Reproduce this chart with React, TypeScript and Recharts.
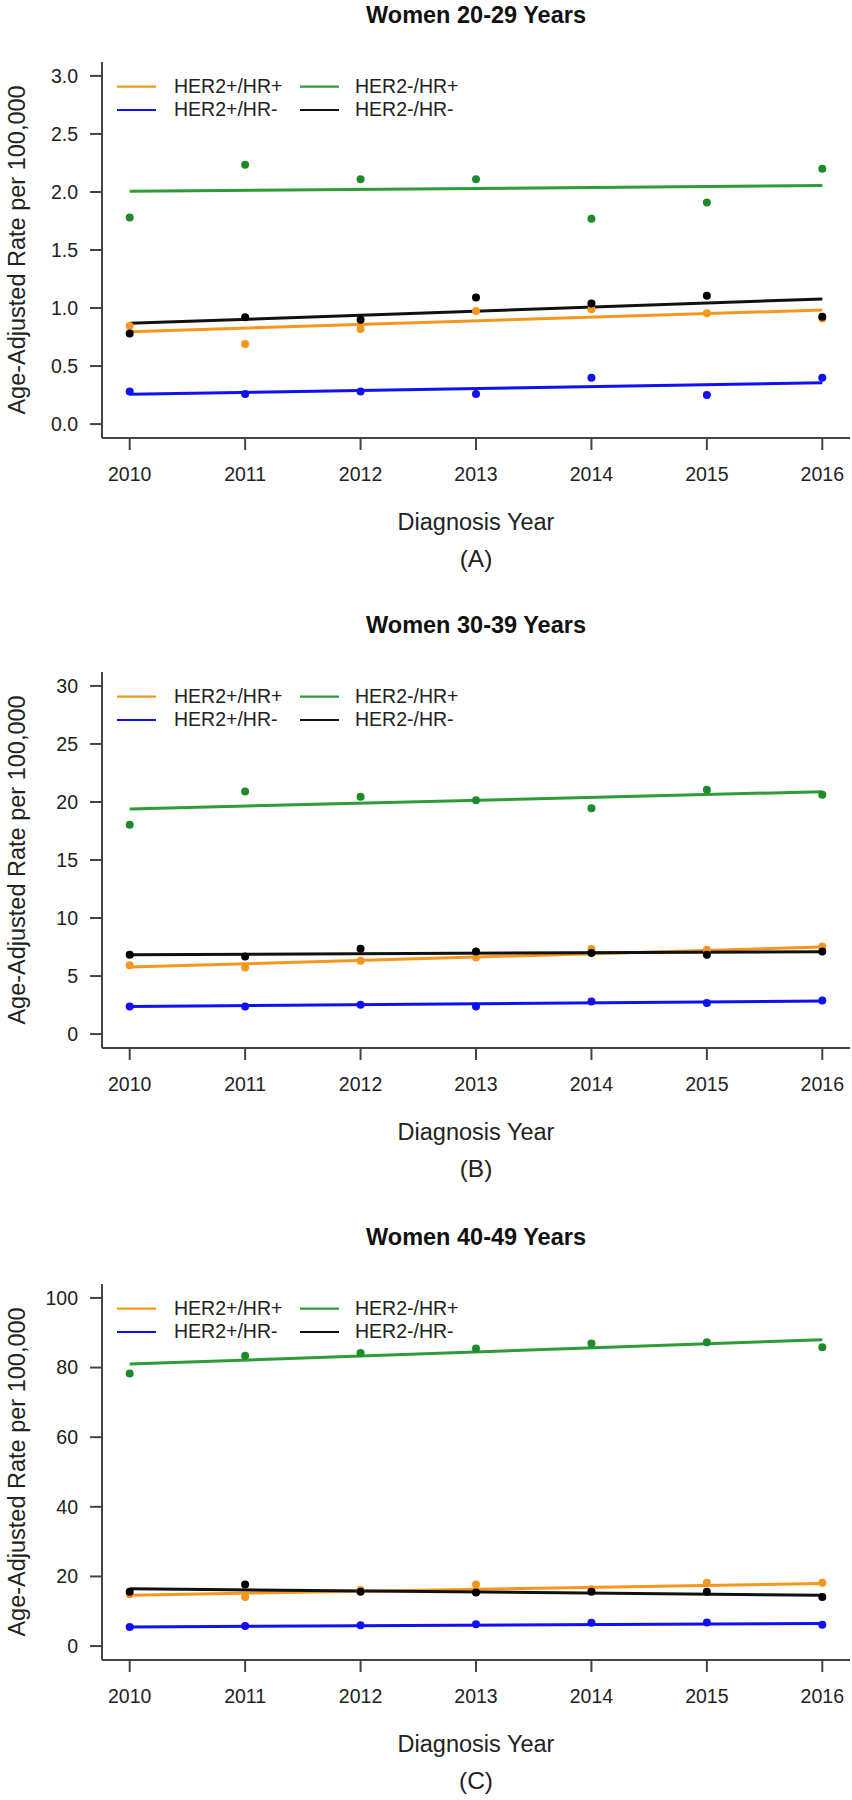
import React from 'react';
import { ScatterChart, Scatter, XAxis, YAxis, ReferenceLine } from 'recharts';

// ---------- data ----------
const years = [2010, 2011, 2012, 2013, 2014, 2015, 2016];
const seriesNames = ['HER2+/HR+', 'HER2+/HR-', 'HER2-/HR+', 'HER2-/HR-'];

// Panel A: Women 20-29 Years
const aPosPos = [0.845, 0.69, 0.82, 0.975, 0.99, 0.955, 0.91];
const aPosNeg = [0.28, 0.26, 0.28, 0.26, 0.4, 0.25, 0.4];
const aNegPos = [1.78, 2.235, 2.11, 2.11, 1.77, 1.91, 2.2];
const aNegNeg = [0.78, 0.92, 0.9, 1.09, 1.04, 1.105, 0.925];
const aTrendStart = [0.796, 0.256, 2.006, 0.868];
const aTrendEnd = [0.983, 0.356, 2.055, 1.078];
const aTicks = [0, 0.5, 1, 1.5, 2, 2.5, 3];

// Panel B: Women 30-39 Years
const bPosPos = [5.92, 5.74, 6.32, 6.6, 7.33, 7.27, 7.55];
const bPosNeg = [2.38, 2.38, 2.53, 2.38, 2.81, 2.67, 2.9];
const bNegPos = [18.04, 20.9, 20.46, 20.14, 19.45, 21.06, 20.63];
const bNegNeg = [6.84, 6.69, 7.35, 7.12, 6.98, 6.84, 7.12];
const bTrendStart = [5.77, 2.38, 19.4, 6.84];
const bTrendEnd = [7.5, 2.84, 20.89, 7.09];
const bTicks = [0, 5, 10, 15, 20, 25, 30];

// Panel C: Women 40-49 Years
const cPosPos = [14.9, 14.1, 16.1, 17.7, 16.3, 18.2, 18.2];
const cPosNeg = [5.5, 5.8, 6.0, 6.3, 6.7, 6.8, 6.1];
const cNegPos = [78.3, 83.4, 84.2, 85.5, 86.9, 87.3, 85.8];
const cNegNeg = [15.6, 17.7, 15.6, 15.4, 15.6, 15.6, 14.1];
const cTrendStart = [14.6, 5.5, 81.0, 16.45];
const cTrendEnd = [18.0, 6.5, 88.0, 14.6];
const cTicks = [0, 20, 40, 60, 80, 100];

// ---------- styles ----------
const FONT = '"Liberation Sans", Arial, Helvetica, sans-serif';
const AX = '#444';
const TXT = '#222';
const lineColors = ['#F7961F', '#1010F5', '#2E9B36', '#111111'];
const dotColors = ['#F7961F', '#1010F5', '#1F8A2B', '#000000'];

const W = 852;
const H = 578;
const PLOT_TOP = 62;
const PLOT_LEFT = 102;
const PLOT_RIGHT = 850;
const PLOT_BOTTOM = 438;
const CX = (PLOT_LEFT + PLOT_RIGHT) / 2;

type PanelProps = {
  title: string;
  letter: string;
  series: number[][];
  trendStart: number[];
  trendEnd: number[];
  ticks: number[];
  fmt: (v: number) => string;
};

function Panel({ title, letter, series, trendStart, trendEnd, ticks, fmt }: PanelProps) {
  const lo = ticks[0];
  const hi = ticks[ticks.length - 1];
  const pad = (hi - lo) * 0.04;
  const xPad = (years[years.length - 1] - years[0]) * 0.04;
  return (
    <div style={{ position: 'relative', width: W, height: H }}>
      <ScatterChart
        width={W}
        height={H}
        margin={{ top: PLOT_TOP, right: W - PLOT_RIGHT, bottom: H - PLOT_BOTTOM - 30, left: 0 }}
      >
        <XAxis
          type="number"
          dataKey="year"
          domain={[years[0] - xPad, years[years.length - 1] + xPad]}
          ticks={years}
          interval={0}
          allowDataOverflow
          height={30}
          tickSize={12}
          tickMargin={17}
          axisLine={{ stroke: AX, strokeWidth: 2 }}
          tickLine={{ stroke: AX, strokeWidth: 2 }}
          tick={{ fontSize: 19.5, fill: TXT, fontFamily: FONT }}
        />
        <YAxis
          type="number"
          dataKey="value"
          domain={[lo - pad, hi + pad]}
          ticks={ticks}
          interval={0}
          allowDataOverflow
          width={PLOT_LEFT}
          tickSize={12}
          tickMargin={12}
          tickFormatter={fmt}
          axisLine={{ stroke: AX, strokeWidth: 2 }}
          tickLine={{ stroke: AX, strokeWidth: 2 }}
          tick={{ fontSize: 19.5, fill: TXT, fontFamily: FONT }}
        />
        {series.map((vals, si) => (
          <Scatter
            key={'s' + si}
            name={seriesNames[si]}
            data={years.map((year, i) => ({ year, value: vals[i] }))}
            isAnimationActive={false}
            shape={(p: any) => <circle cx={p.cx} cy={p.cy} r={4} fill={dotColors[si]} />}
          />
        ))}
        {trendStart.map((s, si) => (
          <ReferenceLine
            key={'t' + si}
            segment={[
              { x: years[0], y: s },
              { x: years[years.length - 1], y: trendEnd[si] },
            ]}
            stroke={lineColors[si]}
            strokeWidth={3}
            ifOverflow="visible"
          />
        ))}
      </ScatterChart>
      <svg
        width={W}
        height={H}
        style={{ position: 'absolute', left: 0, top: 0, pointerEvents: 'none' }}
        fontFamily={FONT}
      >
        <text x={CX} y={23} textAnchor="middle" fontSize={23.5} fontWeight="bold" fill="#111">
          {title}
        </text>
        {seriesNames.map((name, si) => {
          const col = si < 2 ? 0 : 1;
          const row = si % 2;
          const lx = col === 0 ? 117 : 300;
          const tx = col === 0 ? 174 : 355;
          const ly = 86.7 + row * 23.3;
          return (
            <g key={name}>
              <line x1={lx} x2={lx + 39} y1={ly} y2={ly} stroke={lineColors[si]} strokeWidth={2.2} />
              <text x={tx} y={ly + 6.3} fontSize={19.5} fill={TXT}>
                {name}
              </text>
            </g>
          );
        })}
        <text x={CX} y={530} textAnchor="middle" fontSize={23.5} fill={TXT}>
          Diagnosis Year
        </text>
        <text x={CX} y={567} textAnchor="middle" fontSize={24.5} fill={TXT}>
          {letter}
        </text>
        <text
          x={25}
          y={(PLOT_TOP + PLOT_BOTTOM) / 2}
          textAnchor="middle"
          fontSize={23.5}
          fill={TXT}
          transform={`rotate(-90 25 ${(PLOT_TOP + PLOT_BOTTOM) / 2})`}
        >
          Age-Adjusted Rate per 100,000
        </text>
      </svg>
    </div>
  );
}

const fmt1 = (v: number) => v.toFixed(1);
const fmt0 = (v: number) => String(v);

export default function App() {
  return (
    <div style={{ position: 'relative', width: W, height: 1800, background: '#fff', overflow: 'hidden' }}>
      <style>{'body{margin:0;background:#fff;}'}</style>
      <div style={{ position: 'absolute', left: 0, top: 0 }}>
        <Panel
          title="Women 20-29 Years"
          letter="(A)"
          series={[aPosPos, aPosNeg, aNegPos, aNegNeg]}
          trendStart={aTrendStart}
          trendEnd={aTrendEnd}
          ticks={aTicks}
          fmt={fmt1}
        />
      </div>
      <div style={{ position: 'absolute', left: 0, top: 610 }}>
        <Panel
          title="Women 30-39 Years"
          letter="(B)"
          series={[bPosPos, bPosNeg, bNegPos, bNegNeg]}
          trendStart={bTrendStart}
          trendEnd={bTrendEnd}
          ticks={bTicks}
          fmt={fmt0}
        />
      </div>
      <div style={{ position: 'absolute', left: 0, top: 1222 }}>
        <Panel
          title="Women 40-49 Years"
          letter="(C)"
          series={[cPosPos, cPosNeg, cNegPos, cNegNeg]}
          trendStart={cTrendStart}
          trendEnd={cTrendEnd}
          ticks={cTicks}
          fmt={fmt0}
        />
      </div>
    </div>
  );
}
